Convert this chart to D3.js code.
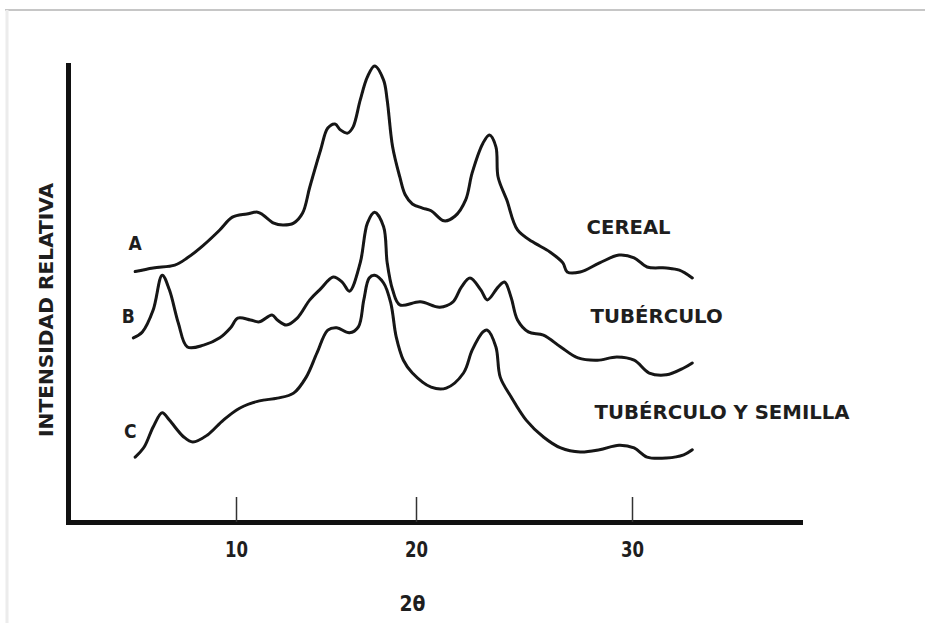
<!DOCTYPE html>
<html>
<head>
<meta charset="utf-8">
<script src="https://cdnjs.cloudflare.com/ajax/libs/d3/7.8.5/d3.min.js"></script>
<style>
	body { margin: 0; background: #fff; }
	.curve { fill: none; stroke: #141414; stroke-width: 3; stroke-linejoin: round; stroke-linecap: round; }
	.lbl { font-family: "Liberation Sans Narrow", "DejaVu Sans Condensed", sans-serif; font-weight: bold; fill: #1e1e1e; }
</style>
</head>
<body>
<div class="container"></div>
<script>
// 2θ positions and relative intensity (A = cereal, B = tubérculo, C = tubérculo y semilla)
var cerealTheta = [4.4,5.4,6.6,7.3,8.2,9.1,9.8,10.6,11.2,11.5,12.1,12.6,13.2,13.7,14.1,14.7,15.1,15.5,15.8,16.2,16.5,16.9,17.3,17.7,18.2,18.4,18.7,19.1,19.4,19.8,20.3,20.7,21.3,21.8,22.3,22.6,23.1,23.4,23.7,23.8,24.2,24.7,25.4,26.2,26.8,27.0,27.6,28.5,29.4,30.1,30.7,31.6,32.2,32.8];
var cerealI = [54.8,55.6,56.2,57.8,60.6,63.9,66.7,67.4,67.8,67.2,65.4,65.0,65.4,67.6,73.3,81.4,86.2,87.1,85.8,85.1,86.4,92.3,97.4,99.8,96.7,92.3,82.1,75.5,71.6,69.6,68.7,68.1,65.9,66.9,70.5,76.4,82.9,84.7,82.1,75.5,70.5,63.9,61.3,59.1,56.7,54.7,54.7,56.7,58.4,57.8,55.8,55.6,55.1,53.4];

var tuberTheta = [4.3,4.8,5.4,5.9,6.3,6.8,7.3,8.2,9.1,9.7,10.1,10.8,11.3,12.0,12.3,12.8,13.4,14.1,14.7,15.4,15.9,16.3,16.9,17.3,17.7,18.2,18.4,18.7,19.1,20.2,21.1,21.7,22.1,22.5,23.0,23.3,23.8,24.1,24.4,24.7,25.2,25.9,26.7,27.5,28.4,29.3,30.1,30.8,31.6,32.4,32.8];
var tuberI = [40.3,41.6,46.4,54.0,50.8,43.5,38.3,38.7,40.3,42.5,44.6,44.2,43.8,45.3,44.2,43.1,44.6,48.6,51.0,53.6,52.5,50.5,56.7,65.4,67.8,64.6,56.7,50.8,47.5,48.2,47.0,48.1,51.4,53.4,50.8,48.6,51.4,52.5,49.2,44.2,41.6,40.9,38.3,35.9,35.4,36.1,35.4,32.6,32.2,33.7,34.8];

var seedTheta = [4.4,4.9,5.4,5.9,6.3,7.1,7.6,8.4,9.3,10.2,11.3,12.3,13.2,13.9,14.5,15.1,15.6,16.3,16.8,17.1,17.4,17.7,18.2,18.6,18.9,19.3,19.8,20.7,21.4,22.2,22.6,23.1,23.3,23.7,23.9,24.4,25.1,25.9,26.7,27.6,28.5,29.4,30.1,30.7,31.6,32.4,32.8];
var seedI = [14.2,16.4,20.8,23.9,22.3,18.6,17.5,19.0,22.3,24.9,26.5,27.1,28.2,31.7,37.0,42.0,42.5,41.4,42.7,48.6,53.4,54.0,52.3,47.9,40.5,35.4,32.6,29.5,29.3,32.6,37.6,41.6,42.0,38.3,31.7,27.4,22.3,18.6,16.2,15.3,15.8,16.8,16.2,14.2,14.0,14.7,15.8];

var seriesLetters = ["A", "B", "C"];
var seriesNames = ["CEREAL", "TUBÉRCULO", "TUBÉRCULO Y SEMILLA"];
var xTicks = [10, 20, 30];
var xTitle = "2θ";
var yTitle = "INTENSIDAD RELATIVA";

const WIDTH = 925;
const HEIGHT = 623;
const LEFT = 68;
const RIGHT = 800;
const TOP = 65;
const BOTTOM = 522;

var svg, xScale, yScale;

var translate = function(x, y){
	return "translate("+x+","+y+")";
};

var zip = function(xs, ys){
	return xs.map(function(x, i){ return {x: x, y: ys[i]}; });
};

var loadChart = function(){
	svg = d3.select('.container').append('svg')
		.attr('width', WIDTH)
		.attr('height', HEIGHT);

	// scanned page edges
	svg.append('line').attr('x1', 5).attr('x2', WIDTH).attr('y1', 10).attr('y2', 10)
		.attr('stroke', '#c6c6c6').attr('stroke-width', 2);
	svg.append('line').attr('x1', 7).attr('x2', 7).attr('y1', 10).attr('y2', HEIGHT)
		.attr('stroke', '#ececec').attr('stroke-width', 3);

	// hand drawn ticks are not evenly spaced, so the scale is piecewise
	xScale = d3.scaleLinear()
		.domain([0.67, 10, 20, 30, 37.8])
		.range([LEFT, 236, 416, 632, RIGHT]);

	yScale = d3.scaleLinear()
		.domain([0, 100])
		.range([BOTTOM, TOP]);

	var xAxis = d3.axisBottom(xScale)
		.tickValues(xTicks)
		.tickSizeInner(-25)
		.tickSizeOuter(0);

	var yAxis = d3.axisLeft(yScale)
		.tickValues([])
		.tickSizeOuter(0);

	var gx = svg.append('g')
		.attr('transform', translate(0, BOTTOM))
		.call(xAxis);
	gx.select('.domain').attr('stroke', '#111').attr('stroke-width', 5).attr('stroke-linecap', 'square');
	gx.selectAll('.tick line').attr('stroke', '#333').attr('stroke-width', 1.5);
	gx.selectAll('.tick text')
		.attr('class', 'lbl')
		.attr('y', 35).attr('dy', 0)
		.attr('font-size', 21)
		.attr('textLength', 23)
		.attr('lengthAdjust', 'spacingAndGlyphs');

	var gy = svg.append('g')
		.attr('transform', translate(LEFT, 0))
		.call(yAxis);
	gy.select('.domain').attr('stroke', '#111').attr('stroke-width', 5).attr('stroke-linecap', 'square');

	svg.append('text')
		.attr('class', 'lbl')
		.attr('x', xScale(19.8)).attr('y', 611)
		.attr('text-anchor', 'middle')
		.attr('font-size', 21)
		.attr('textLength', 26)
		.attr('lengthAdjust', 'spacingAndGlyphs')
		.text(xTitle);

	svg.append('text')
		.attr('class', 'lbl')
		.attr('transform', translate(53, 310) + ' rotate(-90)')
		.attr('text-anchor', 'middle')
		.attr('font-size', 20)
		.attr('textLength', 254)
		.attr('lengthAdjust', 'spacingAndGlyphs')
		.text(yTitle);

	createCurves();
}

var createCurves = function(){
	var line = d3.line()
		.x(function(d){ return xScale(d.x); })
		.y(function(d){ return yScale(d.y); })
		.curve(d3.curveCatmullRom.alpha(0.5));

	var series = [zip(cerealTheta, cerealI), zip(tuberTheta, tuberI), zip(seedTheta, seedI)];

	svg.append('defs').append('filter').attr('id', 'soft')
		.append('feGaussianBlur').attr('stdDeviation', 0.5);

	svg.selectAll('path.curve').data(series)
		.enter().append('path')
		.classed('curve', true)
		.attr('filter', 'url(#soft)')
		.attr('d', line);

	// letter at the start of each trace
	var letterPos = [{dx: 0, dy: -22}, {dx: -5, dy: -15}, {dx: -5, dy: -19}];
	svg.selectAll('text.letter').data(series)
		.enter().append('text')
		.attr('class', 'lbl letter')
		.attr('font-size', 19)
		.attr('fill', '#3a3a3a')
		.attr('text-anchor', 'middle')
		.attr('x', function(d, i){ return xScale(d[0].x) + letterPos[i].dx; })
		.attr('y', function(d, i){ return yScale(d[0].y) + letterPos[i].dy; })
		.text(function(d, i){ return seriesLetters[i]; });

	// names to the right of each trace
	var nameY = [63.0, 43.5, 22.5];
	var nameLen = [84, 132, 255];
	svg.selectAll('text.name').data(seriesNames)
		.enter().append('text')
		.attr('class', 'lbl name')
		.attr('font-size', 20)
		.attr('x', function(d, i){ return xScale(27.9) + i * 4; })
		.attr('y', function(d, i){ return yScale(nameY[i]); })
		.attr('textLength', function(d, i){ return nameLen[i]; })
		.attr('lengthAdjust', 'spacingAndGlyphs')
		.text(function(d){ return d; });
}

window.onload = function () {
	loadChart();
}
</script>
</body>
</html>
